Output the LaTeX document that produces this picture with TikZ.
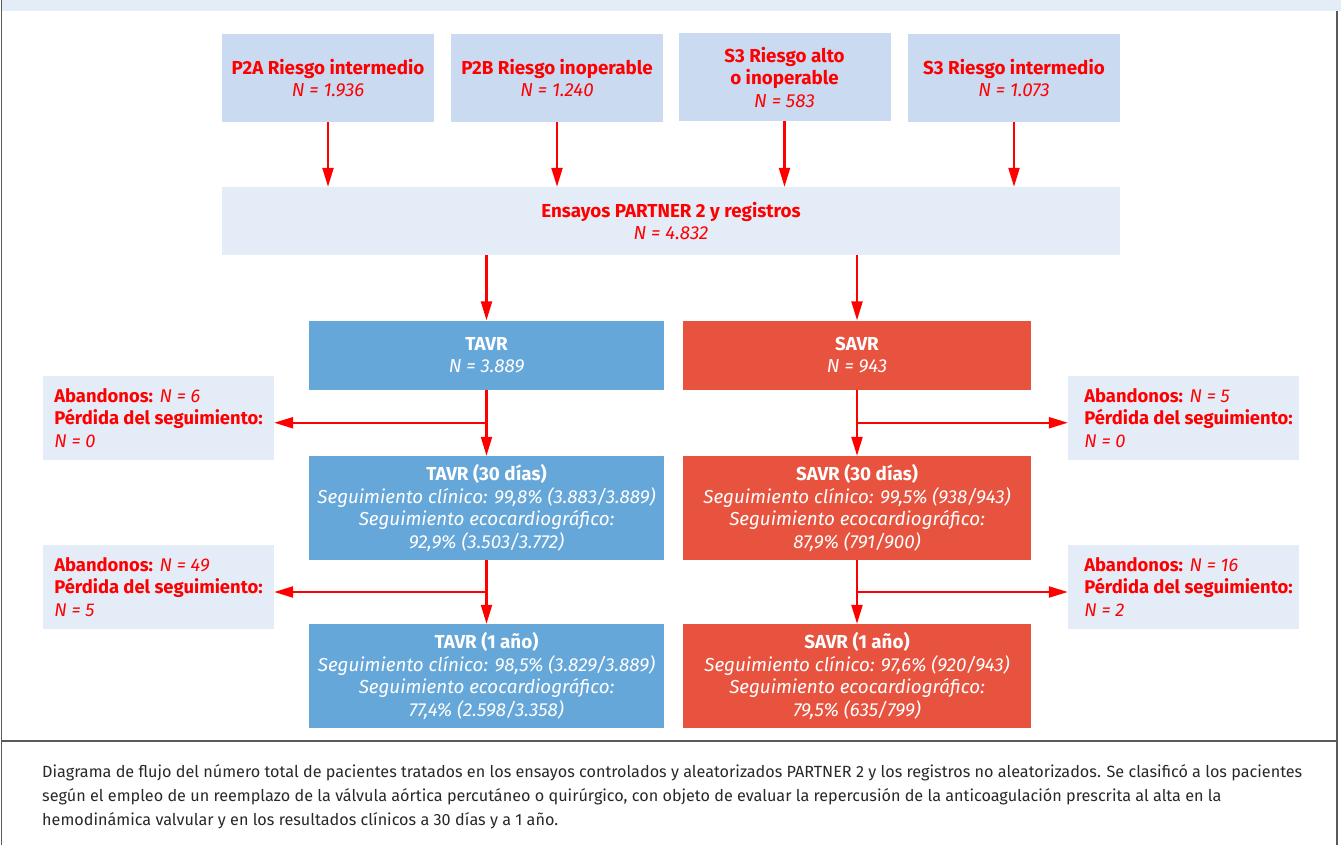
\documentclass[tikz,border=0pt]{standalone}
\usepackage{fontspec}
\setmainfont{Fira Sans}
\usetikzlibrary{arrows.meta,calc}

\newlength{\du}
\setlength{\du}{1pt}

\definecolor{flowred}{RGB}{255,0,0}
\definecolor{topfill}{RGB}{201,218,241}
\definecolor{palefill}{RGB}{228,236,248}
\definecolor{tavrfill}{RGB}{102,167,218}
\definecolor{savrfill}{RGB}{232,83,63}
\definecolor{framegray}{RGB}{90,90,90}
\definecolor{captiongray}{RGB}{40,40,40}

\tikzset{
  boxtext/.style={font=\fontsize{18.8}{22.5}\selectfont, align=center, inner sep=0pt},
  topbox/.style={boxtext, fill=topfill, text=flowred, minimum width=212\du, minimum height=88\du},
  widebox/.style={boxtext, fill=palefill, text=flowred, minimum width=898\du, minimum height=68\du},
  tavrbox/.style={boxtext, fill=tavrfill, text=white, minimum width=355\du},
  savrbox/.style={boxtext, fill=savrfill, text=white, minimum width=348\du},
  sidebox/.style={boxtext, font=\fontsize{18.4}{22.5}\selectfont, fill=palefill, text=flowred,
    align=left, minimum width=231\du, minimum height=84\du},
  flow/.style={draw=flowred, line width=2.2\du, -{Triangle[length=19pt,width=11pt]}},
  framerule/.style={draw=framegray, line width=1.6\du},
  captext/.style={font=\fontsize{16.2}{24}\selectfont, text=captiongray, align=left, inner sep=0pt}
}

\begin{document}
\begin{tikzpicture}
\pgftransformxscale{1.000000}
\pgftransformyscale{-1.000000}
\useasboundingbox (0\du,0\du) rectangle (1341\du,845\du);

% frame
\fill[palefill] (2\du,0\du) rectangle (1341\du,10.7\du);
\draw[framerule] (1.5\du,0\du) -- (1.5\du,845\du);
\draw[framerule] (1337\du,10.7\du) -- (1337\du,845\du);
\draw[framerule] (1.5\du,741\du) -- (1337\du,741\du);

% studies
\node[topbox] (p2a) at (328\du,78\du) {\textbf{P2A Riesgo intermedio}\\\textit{N = 1.936}};
\node[topbox] (p2b) at (557\du,78\du) {\textbf{P2B Riesgo inoperable}\\\textit{N = 1.240}};
\node[topbox] (s3alto) at (784.5\du,77\du) {\textbf{S3 Riesgo alto}\\\textbf{o inoperable}\\\textit{N = 583}};
\node[topbox] (s3int) at (1014\du,78\du) {\textbf{S3 Riesgo intermedio}\\\textit{N = 1.073}};

\node[widebox] (ensayos) at (671\du,221\du) {\textbf{Ensayos PARTNER 2 y registros}\\\textit{N = 4.832}};

% TAVR branch
\node[tavrbox, minimum height=69\du] (tavr) at (486.5\du,355\du) {\textbf{TAVR}\\\textit{N = 3.889}};
\node[tavrbox, minimum height=104\du] (tavr30) at (486.5\du,508\du) {\textbf{TAVR (30 días)}\\\textit{Seguimiento clínico: 99,8\% (3.883/3.889)}\\\textit{Seguimiento ecocardiográfico:}\\\textit{92,9\% (3.503/3.772)}};
\node[tavrbox, minimum height=104\du] (tavr1) at (486.5\du,676\du) {\textbf{TAVR (1 año)}\\\textit{Seguimiento clínico: 98,5\% (3.829/3.889)}\\\textit{Seguimiento ecocardiográfico:}\\\textit{77,4\% (2.598/3.358)}};

% SAVR branch
\node[savrbox, minimum height=69\du] (savr) at (857\du,355\du) {\textbf{SAVR}\\\textit{N = 943}};
\node[savrbox, minimum height=104\du] (savr30) at (857\du,508\du) {\textbf{SAVR (30 días)}\\\textit{Seguimiento clínico: 99,5\% (938/943)}\\\textit{Seguimiento ecocardiográfico:}\\\textit{87,9\% (791/900)}};
\node[savrbox, minimum height=104\du] (savr1) at (857\du,676\du) {\textbf{SAVR (1 año)}\\\textit{Seguimiento clínico: 97,6\% (920/943)}\\\textit{Seguimiento ecocardiográfico:}\\\textit{79,5\% (635/799)}};

% losses
\node[sidebox] (tloss30) at (158.5\du,418\du) {\textbf{Abandonos:} \textit{N = 6}\\\textbf{Pérdida del seguimiento:}\\\textit{N = 0}};
\node[sidebox] (tloss1) at (158.5\du,587\du) {\textbf{Abandonos:} \textit{N = 49}\\\textbf{Pérdida del seguimiento:}\\\textit{N = 5}};
\node[sidebox] (sloss30) at (1183.5\du,418\du) {\hspace*{10pt}\textbf{Abandonos:} \textit{N = 5}\\\hspace*{10pt}\textbf{Pérdida del seguimiento:}\\\hspace*{10pt}\textit{N = 0}};
\node[sidebox] (sloss1) at (1183.5\du,587\du) {\hspace*{10pt}\textbf{Abandonos:} \textit{N = 16}\\\hspace*{10pt}\textbf{Pérdida del seguimiento:}\\\hspace*{10pt}\textit{N = 2}};

% arrows
\foreach \src in {p2a,p2b,s3alto,s3int}
  \draw[flow] (\src.south) -- (\src.south |- ensayos.north);
\draw[flow] (ensayos.south -| tavr.north) -- (tavr.north);
\draw[flow] (ensayos.south -| savr.north) -- (savr.north);
\draw[flow] (tavr) -- (tavr30);
\draw[flow] (tavr30) -- (tavr1);
\draw[flow] (savr) -- (savr30);
\draw[flow] (savr30) -- (savr1);
\coordinate (tsplit30) at ($(tavr.south)!0.5!(tavr30.north)$);
\coordinate (tsplit1) at ($(tavr30.south)!0.5!(tavr1.north)$);
\coordinate (ssplit30) at ($(savr.south)!0.5!(savr30.north)$);
\coordinate (ssplit1) at ($(savr30.south)!0.5!(savr1.north)$);
\draw[flow] (tsplit30) -- (tsplit30 -| tloss30.east);
\draw[flow] (tsplit1) -- (tsplit1 -| tloss1.east);
\draw[flow] (ssplit30) -- (ssplit30 -| sloss30.west);
\draw[flow] (ssplit1) -- (ssplit1 -| sloss1.west);

% caption
\node[captext, anchor=west] (caption) at (42\du,797\du) {Diagrama de flujo del número total de pacientes tratados en los ensayos controlados y aleatorizados PARTNER 2 y los registros no aleatorizados. Se clasificó a los pacientes\\según el empleo de un reemplazo de la válvula aórtica percutáneo o quirúrgico, con objeto de evaluar la repercusión de la anticoagulación prescrita al alta en la\\hemodinámica valvular y en los resultados clínicos a 30 días y a 1 año.};
\end{tikzpicture}
\end{document}
